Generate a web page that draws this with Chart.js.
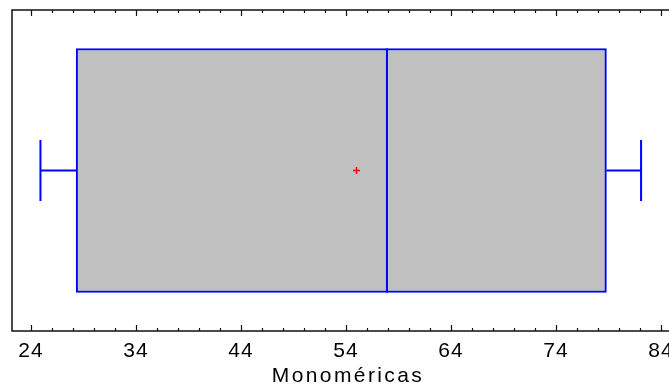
<!DOCTYPE html>
<html>
<head>
<meta charset="utf-8">
<script src="https://cdn.jsdelivr.net/npm/chart.js@4/dist/chart.umd.min.js"></script>
<style>
  html, body { margin: 0; padding: 0; background: #fff; overflow: hidden; }
  #wrap { width: 669px; height: 390px; position: relative; }
  canvas { display: block; }
</style>
</head>
<body>
<div id="wrap"><canvas id="boxChart"></canvas></div>
<script>
// --- data ---
const categories = ['Monoméricas'];
const quartiles = [28.3, 78.8];      // Q1, Q3
const medianValue = [57.9];
const meanValue = [55.0];
const whiskerEnds = [24.9, 82.1];   // min, max
const tickValues = [24, 34, 44, 54, 64, 74, 84];
const axisRange = [22.19, 84.76];
const axisTitle = 'Monoméricas';

const BLUE = 'rgb(0,0,255)';
const FONT = 'Liberation Sans, Arial, sans-serif';

// whiskers, median line, frame, inward tick marks and axis title
const boxExtras = {
    id: 'boxExtras',
    beforeDraw(chart) {
        chart.ctx.letterSpacing = '1px';
    },
    afterDatasetsDraw(chart) {
        const { ctx, chartArea: a, scales: { x, y } } = chart;
        const yc = y.getPixelForValue(0);
        const bar = chart.getDatasetMeta(0).data[0];
        const half = bar.height / 2;
        const capHalf = half / 4;

        ctx.save();
        ctx.strokeStyle = BLUE;
        ctx.lineWidth = 2;
        ctx.beginPath();
        // whisker stems
        ctx.moveTo(x.getPixelForValue(whiskerEnds[0]), yc);
        ctx.lineTo(x.getPixelForValue(quartiles[0]), yc);
        ctx.moveTo(x.getPixelForValue(quartiles[1]), yc);
        ctx.lineTo(x.getPixelForValue(whiskerEnds[1]), yc);
        // caps
        whiskerEnds.forEach(v => {
            const px = x.getPixelForValue(v);
            ctx.moveTo(px, yc - capHalf);
            ctx.lineTo(px, yc + capHalf);
        });
        // median
        const mx = x.getPixelForValue(medianValue[0]);
        ctx.moveTo(mx, yc - half);
        ctx.lineTo(mx, yc + half);
        ctx.stroke();

        // frame (no right side, it runs off the picture)
        ctx.strokeStyle = '#111';
        ctx.lineWidth = 1.5;
        ctx.beginPath();
        ctx.moveTo(a.right + 2, a.top);
        ctx.lineTo(a.left, a.top);
        ctx.lineTo(a.left, a.bottom);
        ctx.lineTo(a.right + 2, a.bottom);
        ctx.stroke();

        // ticks pointing inward, top and bottom
        ctx.lineWidth = 1.2;
        ctx.beginPath();
        for (let v = tickValues[0]; v <= axisRange[1]; v += 2) {
            const px = Math.round(x.getPixelForValue(v)) + 0.5;
            const len = tickValues.includes(v) ? 6 : 3;
            ctx.moveTo(px, a.bottom);
            ctx.lineTo(px, a.bottom - len);
            ctx.moveTo(px, a.top);
            ctx.lineTo(px, a.top + len);
        }
        ctx.stroke();

        // axis title
        ctx.fillStyle = '#000';
        ctx.font = '21px ' + FONT;
        ctx.letterSpacing = '2.4px';
        ctx.textAlign = 'center';
        ctx.textBaseline = 'alphabetic';
        ctx.fillText(axisTitle, 348, 382);
        ctx.restore();
    }
};

new Chart(document.getElementById('boxChart'), {
    data: {
        labels: categories,
        datasets: [
            {
                type: 'bar',
                indexAxis: 'y',
                data: [quartiles],
                backgroundColor: '#C0C0C0',
                borderColor: BLUE,
                borderWidth: 2,
                borderSkipped: false,
                barThickness: 244,
                order: 2
            },
            {
                type: 'scatter',
                data: [{ x: meanValue[0], y: categories[0] }],
                pointStyle: 'cross',
                radius: 3.5,
                borderColor: 'red',
                borderWidth: 1.5,
                order: 1
            }
        ]
    },
    options: {
        responsive: true,
        maintainAspectRatio: false,
        animation: false,
        layout: { autoPadding: false, padding: { left: 12, top: 10, right: 0, bottom: 0 } },
        plugins: { legend: { display: false }, tooltip: { enabled: false } },
        scales: {
            x: {
                type: 'linear',
                position: 'bottom',
                min: axisRange[0],
                max: axisRange[1],
                afterBuildTicks: s => { s.ticks = tickValues.map(v => ({ value: v })); },
                afterFit: s => { s.height = 59; s.paddingLeft = 0; s.paddingRight = 0; },
                grid: { display: false, drawTicks: false },
                border: { display: false },
                ticks: {
                    color: '#000',
                    padding: 8,
                    maxRotation: 0,
                    autoSkip: false,
                    font: { family: FONT, size: 21 }
                },
                title: { display: false }
            },
            y: {
                type: 'category',
                display: false
            }
        }
    },
    plugins: [boxExtras]
});
</script>
</body>
</html>
